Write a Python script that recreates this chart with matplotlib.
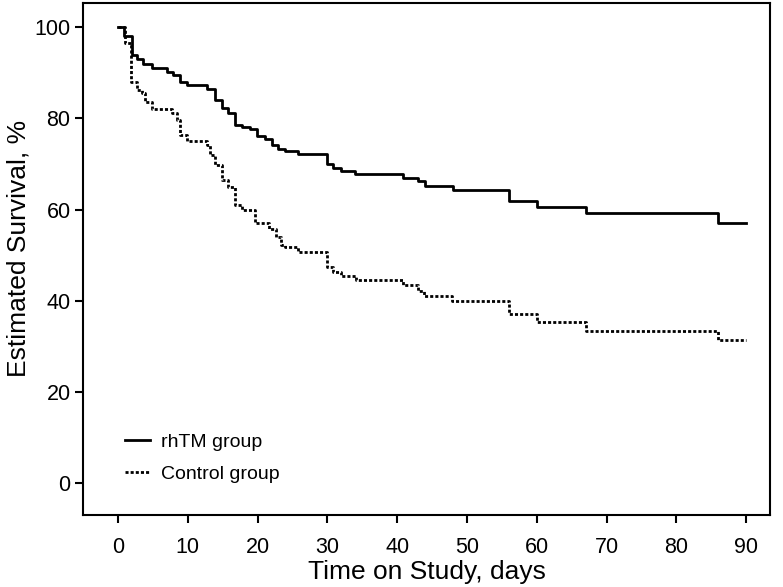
import matplotlib
matplotlib.use("Agg")
import matplotlib.pyplot as plt

# rhTM group (Kaplan-Meier step data: event times in days, survival %)
rhtm_t = [0, 0.9, 2.0, 2.7, 3.6, 4.9, 7.0, 7.9, 8.9, 9.9, 12.7, 13.9, 14.9, 15.8,
          16.8, 17.8, 18.9, 19.9, 21.0, 22.0, 23.0, 23.9, 25.8, 29.9, 30.8, 31.9,
          33.9, 40.8, 43.0, 44.0, 48.0, 56.0, 60.0, 67.0, 86.0, 90.0]
rhtm_s = [100, 98, 94, 93, 92, 91, 90.2, 89.5, 88, 87.3, 86.5, 84, 82.2, 81.1,
          78.5, 78.1, 77.6, 76.1, 75.4, 74.1, 73.2, 72.8, 72.2, 70, 69.1, 68.4,
          67.8, 67.0, 66.2, 65.2, 64.2, 61.8, 60.6, 59.3, 57.1, 57.1]

# Control group
ctrl_t = [0, 1.0, 1.9, 2.7, 3.4, 3.9, 4.9, 7.8, 8.5, 8.9, 9.9, 12.7, 13.2, 13.9,
          14.9, 15.8, 16.8, 17.8, 19.6, 21.6, 22.6, 23.3, 23.9, 25.8, 29.9, 30.8,
          31.9, 34.1, 40.8, 43.0, 43.8, 47.9, 56.0, 60.0, 67.0, 86.0, 90.0]
ctrl_s = [100, 96.5, 88, 86.2, 85.5, 83.5, 82, 81.1, 79.6, 76.3, 75, 74.2, 72, 69.7,
          66.4, 65, 61, 60, 57, 55.7, 54, 52.3, 51.8, 50.7, 47.4, 46.3,
          45.4, 44.5, 43.4, 42.1, 41, 39.9, 37, 35.3, 33.3, 31.4, 31.4]

xticks = [0, 10, 20, 30, 40, 50, 60, 70, 80, 90]
yticks = [0, 20, 40, 60, 80, 100]

plt.rcParams['font.family'] = ['Liberation Sans', 'DejaVu Sans']

fig = plt.figure(figsize=(7.83, 5.87), dpi=100)
ax = fig.add_axes([83/783, 1 - 515/587, (770 - 83)/783, (515 - 3)/587])

ax.step(rhtm_t, rhtm_s, where='post', color='black', lw=2.0, label='rhTM group')
ax.step(ctrl_t, ctrl_s, where='post', color='black', lw=2.0,
        linestyle=(0, (1.1, 0.75)), label='Control group')

ax.set_xlim(-5.0, 93.4)
ax.set_ylim(-7.0, 105.3)
ax.set_xticks(xticks)
ax.set_yticks(yticks)
ax.tick_params(direction='out', length=6, width=1.5, labelsize=15.5)
ax.tick_params(axis='x', pad=10)
ax.tick_params(axis='y', pad=3)
for s in ax.spines.values():
    s.set_linewidth(1.5)

ax.set_xlabel('Time on Study, days', fontsize=19)
ax.set_ylabel('Estimated Survival, %', fontsize=19)
ax.xaxis.set_label_coords(0.5, -0.088)
ax.yaxis.set_label_coords(-0.077, 0.52)

leg = ax.legend(loc='lower left', bbox_to_anchor=(0.061, 0.063), frameon=False,
                fontsize=14, handlelength=1.3, handletextpad=0.55,
                labelspacing=0.75, borderpad=0, borderaxespad=0)

fig.savefig('out.png', dpi=100)
